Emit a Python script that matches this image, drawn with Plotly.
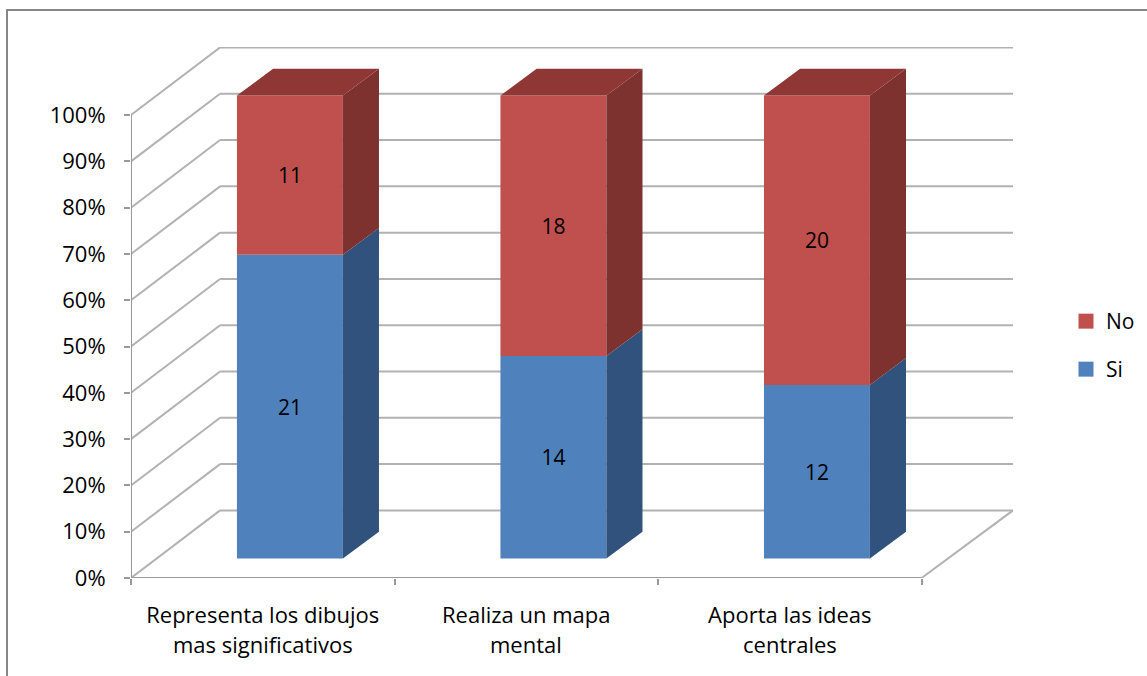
import plotly.graph_objects as go

categories_line1 = ['Representa los dibujos', 'Realiza un mapa', 'Aporta las ideas']
categories_line2 = ['mas significativos', 'mental', 'centrales']
si_counts = [21, 14, 12]
no_counts = [11, 18, 20]
y_ticks = [0, 10, 20, 30, 40, 50, 60, 70, 80, 90, 100]

BLUE, BLUE_SIDE = '#4F81BD', '#31527C'
RED, RED_SIDE, RED_TOP = '#C0504D', '#7D3230', '#8E3735'
GRID = '#B2B2B2'
AXIS = '#999999'
FONT = 'Open Sans'
FONT_SIZE = 21
CAT_SIZE = 22

W, H = 1147, 676
LEFT, TOP, BOTTOM = 131, 47, 98
PLOT_RIGHT = 1013
PAPER_W = W - LEFT                # no right margin, the x domain stops short of the legend
PAPER_H = H - TOP - BOTTOM

# the fake 3d box, all in data units (x: one unit per category, y: percent)
WALL_DX, WALL_DY = 0.338, 14.6
BAR_DX, BAR_DY = 0.103, 4.2       # how far the bar front sits behind the axis
SIDE_DX, SIDE_DY = 0.137, 5.8     # bar depth
BAR_W = 0.402
X_MAX = 3.347
Y_MAX = 114.7

totals = [s + n for s, n in zip(si_counts, no_counts)]
si_pct = [100 * s / t for s, t in zip(si_counts, totals)]
no_pct = [100 * n / t for n, t in zip(no_counts, totals)]
centers = [i + 0.5 + BAR_DX for i in range(3)]


def side_face(cx, y0, y1, color):
    r = cx + BAR_W / 2
    return go.Scatter(x=[r, r + SIDE_DX, r + SIDE_DX, r, r],
                      y=[y0, y0 + SIDE_DY, y1 + SIDE_DY, y1, y0],
                      mode='lines', fill='toself', fillcolor=color,
                      line=dict(width=0, color=color), showlegend=False, hoverinfo='skip')


def top_face(cx, y, color):
    l, r = cx - BAR_W / 2, cx + BAR_W / 2
    return go.Scatter(x=[l, r, r + SIDE_DX, l + SIDE_DX, l],
                      y=[y, y, y + SIDE_DY, y + SIDE_DY, y],
                      mode='lines', fill='toself', fillcolor=color,
                      line=dict(width=0, color=color), showlegend=False, hoverinfo='skip')


fig = go.Figure()

fig.add_trace(go.Bar(x=centers, y=si_pct, base=BAR_DY, width=BAR_W, marker=dict(color=BLUE, line_width=0),
                     text=si_counts, textposition='inside', insidetextanchor='middle', textangle=0,
                     textfont=dict(color='black', size=FONT_SIZE, family=FONT), showlegend=False))
fig.add_trace(go.Bar(x=centers, y=no_pct, base=[BAR_DY + p for p in si_pct], width=BAR_W,
                     marker=dict(color=RED, line_width=0),
                     text=no_counts, textposition='inside', insidetextanchor='middle', textangle=0,
                     textfont=dict(color='black', size=FONT_SIZE, family=FONT), showlegend=False))

for cx, p in zip(centers, si_pct):
    fig.add_trace(side_face(cx, BAR_DY, BAR_DY + p, BLUE_SIDE))
    fig.add_trace(side_face(cx, BAR_DY + p, BAR_DY + 100, RED_SIDE))
    fig.add_trace(top_face(cx, BAR_DY + 100, RED_TOP))

# legend swatches, one legend each so the spacing can be set
fig.add_trace(go.Scatter(x=[None], y=[None], mode='markers', name='No', legend='legend',
                         marker=dict(symbol='square', size=15, color=RED)))
fig.add_trace(go.Scatter(x=[None], y=[None], mode='markers', name='Si', legend='legend2',
                         marker=dict(symbol='square', size=15, color=BLUE)))

shapes = []
for t in y_ticks:
    shapes.append(dict(type='line', x0=0, y0=t, x1=WALL_DX, y1=t + WALL_DY, xref='x', yref='y',
                       layer='below', line=dict(color=GRID, width=2)))
    shapes.append(dict(type='line', x0=WALL_DX, y0=t + WALL_DY, x1=X_MAX, y1=t + WALL_DY, xref='x', yref='y',
                       layer='below', line=dict(color=GRID, width=2)))
# floor edges and the axis lines
shapes.append(dict(type='line', x0=3, y0=0, x1=X_MAX, y1=WALL_DY, xref='x', yref='y', layer='below',
                   line=dict(color=GRID, width=2)))
shapes.append(dict(type='line', x0=0, y0=0, x1=3, y1=0, xref='x', yref='y', layer='below',
                   line=dict(color=AXIS, width=2)))
shapes.append(dict(type='line', x0=0, y0=0, x1=0, y1=100, xref='x', yref='y', layer='below',
                   line=dict(color=AXIS, width=2)))
# chart area border, runs off the page on the right and bottom
shapes.append(dict(type='rect', x0=(7 - LEFT) / PAPER_W, x1=1.3,
                   y0=-0.4, y1=(H - BOTTOM - 10) / PAPER_H,
                   xref='paper', yref='paper', layer='below',
                   line=dict(color='#868686', width=2)))

annotations = [dict(x=i + 0.5, y=0, xref='x', yref='paper', yshift=-83, text=t, showarrow=False,
                    font=dict(family=FONT, size=CAT_SIZE, color='black'))
               for i, t in enumerate(categories_line2)]

fig.update_layout(
    width=W, height=H,
    margin=dict(l=LEFT, r=0, t=TOP, b=BOTTOM, pad=0),
    paper_bgcolor='white', plot_bgcolor='rgba(0,0,0,0)',
    barmode='overlay',
    font=dict(family=FONT, size=FONT_SIZE, color='black'),
    shapes=shapes, annotations=annotations,
    legend=dict(x=(1066 - LEFT) / PAPER_W, y=(H - BOTTOM - 301) / PAPER_H,
                xanchor='left', yanchor='top', bgcolor='rgba(0,0,0,0)'),
    legend2=dict(x=(1066 - LEFT) / PAPER_W, y=(H - BOTTOM - 349) / PAPER_H,
                 xanchor='left', yanchor='top', bgcolor='rgba(0,0,0,0)'),
    xaxis=dict(domain=[0, (PLOT_RIGHT - LEFT) / PAPER_W], range=[0, X_MAX],
               showgrid=False, zeroline=False, showline=False,
               tickmode='array', tickvals=[0.5, 1.5, 2.5], ticktext=categories_line1, ticks='', tickangle=0,
               tickfont=dict(size=CAT_SIZE),
               minor=dict(tickmode='array', tickvals=[0, 1, 2, 3], ticks='outside', ticklen=6,
                          tickwidth=2, tickcolor=AXIS, showgrid=False),
               ticklabelstandoff=22),
    yaxis=dict(range=[0, Y_MAX], showgrid=False, zeroline=False, showline=False,
               tickmode='array', tickvals=y_ticks, ticktext=[f'{t}%' for t in y_ticks],
               tickfont=dict(size=22),
               ticks='outside', ticklen=6, tickwidth=2, tickcolor=AXIS, ticklabelstandoff=14),
)

# drop the default body margin so the figure sits at the page corner
fig.write_html('out.html', config=dict(displayModeBar=False), post_script="document.body.style.margin='0';")
